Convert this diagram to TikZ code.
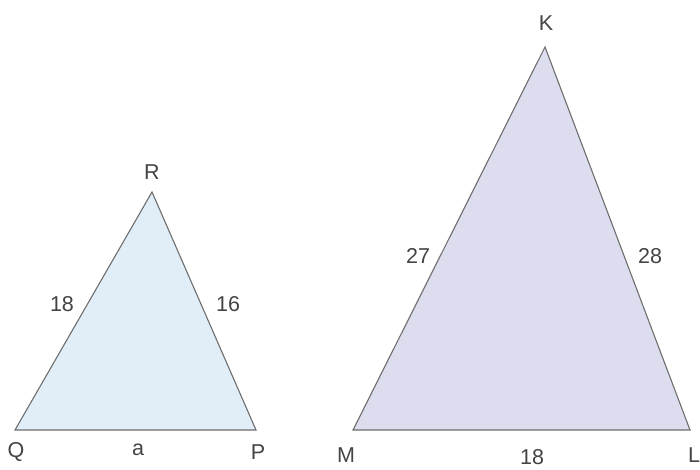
\documentclass[tikz,border=0pt]{standalone}
\usepackage{fontspec}
\setmainfont{Liberation Sans}
\definecolor{edgegray}{HTML}{6E6E6E}
\definecolor{txtgray}{HTML}{444444}
\definecolor{fillblue}{HTML}{E1EEF8}
\definecolor{filllav}{HTML}{DDDDF0}
\begin{document}
\begin{tikzpicture}[x=1pt,y=1pt,
  tri/.style={draw=edgegray,line width=1.1pt,line join=miter},
  lbl/.style={text=txtgray,font=\fontsize{21.5}{21.5}\selectfont,inner sep=0pt}]
\useasboundingbox (0,0) rectangle (700,469);
% small triangle
\coordinate (Q) at (15,39);
\coordinate (P) at (256,39);
\coordinate (R) at (152,277);
\filldraw[tri,fill=fillblue] (Q) -- (P) -- (R) -- cycle;
\node[lbl] (lR) at (152,297) {R};
\node[lbl] (lQ) at (16,17) {Q};
\node[lbl] (lP) at (258,17) {P};
\node[lbl] (la) at (138,19) {a};
\node[lbl] (l18a) at (62,165) {18};
\node[lbl] (l16) at (228,165) {16};
% big triangle
\coordinate (M) at (353,39);
\coordinate (L) at (690,39);
\coordinate (K) at (545,422);
\filldraw[tri,fill=filllav] (M) -- (L) -- (K) -- cycle;
\node[lbl] (lK) at (546,446) {K};
\node[lbl] (lM) at (346,14) {M};
\node[lbl] (lL) at (694,14) {L};
\node[lbl] (l18b) at (532,12) {18};
\node[lbl] (l27) at (418,213) {27};
\node[lbl] (l28) at (650,213) {28};
\end{tikzpicture}
\end{document}
